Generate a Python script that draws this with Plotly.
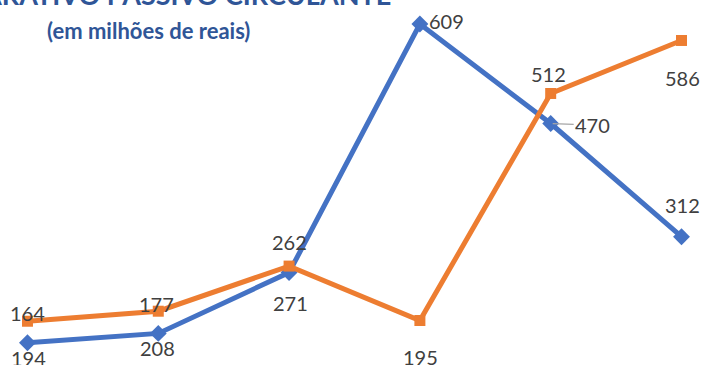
import plotly.graph_objects as go

# ---- data ----
categories = [0, 1, 2, 3, 4, 5]
blue_values = [164, 177, 262, 609, 470, 312]
orange_values = [194, 208, 271, 195, 512, 586]
title_text = "COMPARATIVO PASSIVO CIRCULANTE"
subtitle_text = "(em milhões de reais)"

# ---- styles / label offsets (pixels) ----
BLUE = "#4472C4"
ORANGE = "#ED7D31"
LABEL_COLOR = "#404040"
TITLE_COLOR = "#2F5597"
blue_label_shift = [(0, 30), (-2, 29), (0, 31), (27, 3), (None, None), (1, 32)]
orange_label_shift = [(1, -37), (-1, -37), (1, -37), (1, -36), (-2, 19), (1, -38)]
leader_offset = (42, -1.5)

fig = go.Figure()
fig.add_trace(go.Scatter(
    x=categories, y=blue_values, mode="lines+markers",
    line=dict(color=BLUE, width=5),
    marker=dict(symbol="diamond", size=13, color=BLUE),
    hoverinfo="skip", showlegend=False))
fig.add_trace(go.Scatter(
    x=categories, y=orange_values, mode="lines+markers",
    line=dict(color=ORANGE, width=5),
    marker=dict(symbol="square", size=11, color=ORANGE),
    hoverinfo="skip", showlegend=False))

label_font = dict(family="Lato", size=20, color=LABEL_COLOR)
for x, v, (dx, dy) in zip(categories, blue_values, blue_label_shift):
    if dx is None:
        fig.add_annotation(x=x, y=v, text=str(v), showarrow=True,
                           ax=leader_offset[0], ay=-leader_offset[1],
                           arrowhead=0, arrowwidth=1.2, arrowcolor="#A6A6A6",
                           standoff=2, font=label_font)
    else:
        fig.add_annotation(x=x, y=v, text=str(v), showarrow=False,
                           xshift=dx, yshift=dy, font=label_font)
for x, v, (dx, dy) in zip(categories, orange_values, orange_label_shift):
    fig.add_annotation(x=x, y=v, text=str(v), showarrow=False,
                       xshift=dx, yshift=dy, font=label_font)

fig.add_annotation(xref="paper", yref="paper", x=393 / 704, y=1 - 13 / 365,
                   xanchor="right", yanchor="bottom", showarrow=False,
                   text="<b>" + title_text + "</b>",
                   font=dict(family="Lato", size=27, color=TITLE_COLOR))
fig.add_annotation(xref="paper", yref="paper", x=148 / 704, y=1 - 31 / 365,
                   xanchor="center", yanchor="middle", showarrow=False,
                   text="<b>" + subtitle_text + "</b>",
                   font=dict(family="Lato", size=22, color=TITLE_COLOR))

fig.update_xaxes(visible=False, range=[-0.210, 5.172])
fig.update_yaxes(visible=False, range=[132.9, 642.5])
fig.update_layout(width=704, height=365, margin=dict(l=0, r=0, t=0, b=0),
                  paper_bgcolor="white", plot_bgcolor="white")
fig.write_html("out.html")
